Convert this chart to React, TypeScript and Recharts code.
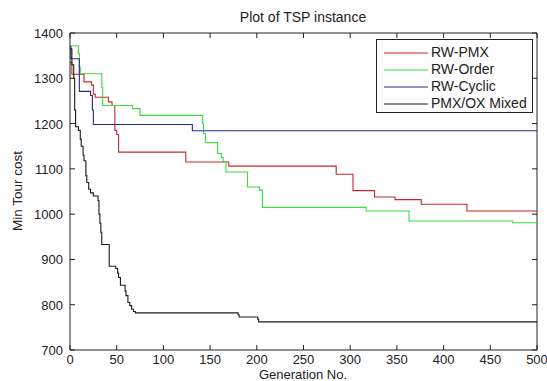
import { LineChart, Line, XAxis, YAxis, ReferenceLine } from "recharts";

// generation at which the best cost changes, and the new cost
const pmxGen = [0, 2, 15, 23, 25, 27, 41, 45, 48, 50, 52, 124, 170, 285, 303, 326, 348, 376, 425, 500];
const pmxCost = [1335, 1309, 1292, 1285, 1265, 1258, 1248, 1240, 1185, 1176, 1137, 1115, 1106, 1088, 1052, 1038, 1032, 1022, 1007, 1007];

const orderGen = [0, 9, 10, 11, 34, 35, 67, 75, 142, 143, 145, 158, 162, 164, 167, 190, 203, 206, 317, 363, 474, 500];
const orderCost = [1372, 1355, 1325, 1310, 1280, 1240, 1233, 1218, 1200, 1178, 1158, 1134, 1125, 1115, 1093, 1060, 1053, 1015, 1007, 985, 981, 981];

const cyclicGen = [0, 1, 10, 22, 24, 25, 131, 500];
const cyclicCost = [1370, 1343, 1271, 1262, 1230, 1198, 1184, 1184];

const mixedGen = [0, 2, 4, 5, 6, 9, 11, 12, 14, 15, 17, 18, 20, 22, 25, 30, 31, 32, 33, 34, 42, 49, 51, 52, 54, 59, 60, 62, 64, 66, 68, 70, 180, 181, 201, 202, 500];
const mixedCost = [1365, 1330, 1300, 1230, 1193, 1185, 1165, 1150, 1130, 1118, 1085, 1070, 1055, 1047, 1040, 1030, 1000, 980, 960, 933, 885, 880, 870, 860, 843, 830, 820, 805, 798, 790, 785, 782, 778, 773, 768, 762, 762];

const xTicks = [0, 50, 100, 150, 200, 250, 300, 350, 400, 450, 500];
const yTicks = [700, 800, 900, 1000, 1100, 1200, 1300, 1400];

const toPoints = (gen: number[], cost: number[]) => gen.map((g, i) => ({ gen: g, cost: cost[i] }));

const series = [
  { name: "RW-PMX", color: "#c82828", data: toPoints(pmxGen, pmxCost) },
  { name: "RW-Order", color: "#3cdc3c", data: toPoints(orderGen, orderCost) },
  { name: "RW-Cyclic", color: "#28288c", data: toPoints(cyclicGen, cyclicCost) },
  { name: "PMX/OX Mixed", color: "#1a1a1a", data: toPoints(mixedGen, mixedCost) },
];

const W = 547;
const H = 381;
const LEFT = 70;
const RIGHT = 537;
const TOP = 33;
const BOTTOM = 350;
const FONT = "'Liberation Sans', Arial, sans-serif";
const AXIS = "#222";

const XTick = ({ x, payload }: any) => (
  <g>
    <line x1={x} x2={x} y1={BOTTOM} y2={BOTTOM - 5} stroke={AXIS} />
    <line x1={x} x2={x} y1={TOP} y2={TOP + 5} stroke={AXIS} />
    <text x={x} y={BOTTOM + 14} textAnchor="middle" fontSize={13} fontFamily={FONT} fill="#222">
      {payload.value}
    </text>
  </g>
);

const YTick = ({ y, payload }: any) => (
  <g>
    <line x1={LEFT} x2={LEFT + 5} y1={y} y2={y} stroke={AXIS} />
    <line x1={RIGHT} x2={RIGHT - 5} y1={y} y2={y} stroke={AXIS} />
    <text x={63} y={y + 5} textAnchor="end" fontSize={13} fontFamily={FONT} fill="#222">
      {payload.value}
    </text>
  </g>
);

const LegendBox = () => (
  <div
    style={{
      position: "absolute",
      left: 376,
      top: 39,
      width: 157,
      height: 74,
      border: "1px solid #222",
      background: "#fff",
      boxSizing: "border-box",
      paddingTop: 4,
    }}
  >
    {series.map((s) => (
      <div key={s.name} style={{ display: "flex", alignItems: "center", height: 17 }}>
        <svg width={54} height={10} style={{ flex: "none" }}>
          <line x1={7} x2={51} y1={5} y2={5} stroke={s.color} strokeWidth={1} />
        </svg>
        <span style={{ fontSize: 14, fontFamily: FONT, color: "#222", lineHeight: "17px", whiteSpace: "nowrap" }}>
          {s.name}
        </span>
      </div>
    ))}
  </div>
);

const label = {
  position: "absolute" as const,
  textAlign: "center" as const,
  fontFamily: FONT,
  color: "#222",
};

export default function App() {
  return (
    <div style={{ position: "relative", width: W, height: H, background: "#fff", overflow: "hidden" }}>
      <style>{"body{margin:0;background:#fff}"}</style>
      <LineChart width={W} height={H} margin={{ top: TOP, right: W - RIGHT, left: 0, bottom: 0 }}>
        <XAxis
          type="number"
          dataKey="gen"
          domain={[0, 500]}
          ticks={xTicks}
          interval={0}
          allowDataOverflow
          height={H - BOTTOM}
          stroke={AXIS}
          tickLine={false}
          tick={<XTick />}
        />
        <YAxis
          type="number"
          dataKey="cost"
          domain={[700, 1400]}
          ticks={yTicks}
          interval={0}
          allowDataOverflow
          width={LEFT}
          stroke={AXIS}
          tickLine={false}
          tick={<YTick />}
        />
        <ReferenceLine y={1400} stroke={AXIS} strokeWidth={1} />
        <ReferenceLine x={500} stroke={AXIS} strokeWidth={1} />
        {series.map((s) => (
          <Line
            key={s.name}
            data={s.data}
            dataKey="cost"
            name={s.name}
            type="stepAfter"
            stroke={s.color}
            strokeWidth={1.1}
            dot={false}
            isAnimationActive={false}
          />
        ))}
      </LineChart>
      <LegendBox />
      <div style={{ ...label, left: 203, top: 9, width: 200, fontSize: 14, lineHeight: "16px" }}>Plot of TSP instance</div>
      <div style={{ ...label, left: 203, top: 368, width: 200, fontSize: 13, lineHeight: "13px" }}>Generation No.</div>
      <div
        style={{
          ...label,
          left: 18 - 60,
          top: 191 - 8,
          width: 120,
          fontSize: 13.5,
          lineHeight: "16px",
          transform: "rotate(-90deg)",
        }}
      >
        Min Tour cost
      </div>
    </div>
  );
}
